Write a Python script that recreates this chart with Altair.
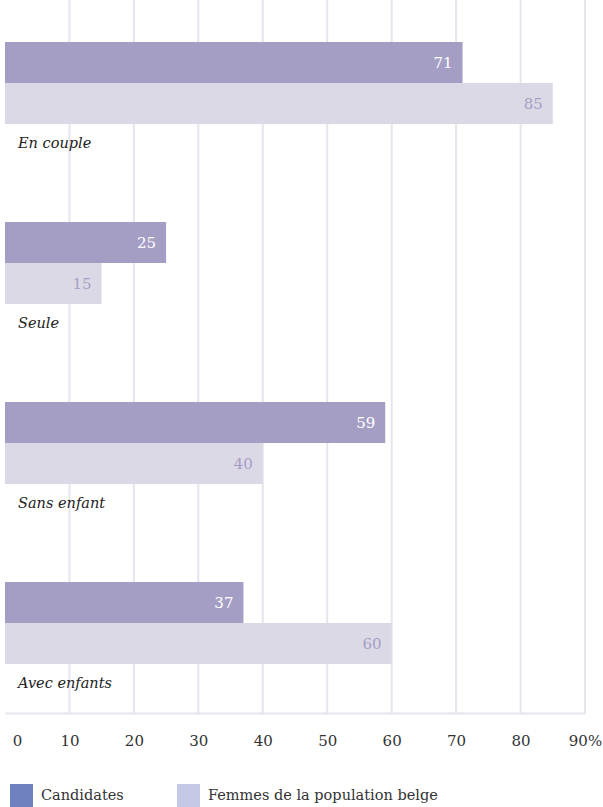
import altair as alt
import pandas as pd

categories = ["En couple", "Seule", "Sans enfant", "Avec enfants"]
candidates = [71, 25, 59, 37]
femmes = [85, 15, 40, 60]
series = ["Candidates", "Femmes de la population belge"]

rows = []
for c, a, b in zip(categories, candidates, femmes):
    rows.append({"cat": c, "serie": series[0], "val": a})
    rows.append({"cat": c, "serie": series[1], "val": b})
df = pd.DataFrame(rows)
cat_df = pd.DataFrame({"cat": categories})

SERIF = "DejaVu Serif"
bar_colors = ["#a59ec4", "#dcd9e7"]
legend_colors = ["#6f80bf", "#c5c9e6"]
label_colors = ["#ffffff", "#a59ec4"]

x_scale = alt.Scale(domain=[0, 90], nice=False)
y_scale = alt.Scale(domain=categories, range=[0, 720], paddingInner=0, paddingOuter=0)
yoff_scale = alt.Scale(domain=series, range=[42, 124], paddingInner=0, paddingOuter=0)

base = alt.Chart(df)

bars = base.mark_bar(size=41).encode(
    x=alt.X("val:Q", scale=x_scale,
            axis=alt.Axis(values=list(range(0, 100, 10)), title=None,
                          grid=False, ticks=False, domain=True,
                          domainColor="#e6e4ec", domainWidth=2,
                          labelFont=SERIF, labelFontSize=15, labelColor="#333333",
                          labelPadding=20, labelFlush=False, labelOverlap=False,
                          labelOffset=alt.condition("datum.value == 0", alt.value(12), alt.value(0)),
                          labelExpr="datum.value == 90 ? datum.label + '%' : datum.label")),
    y=alt.Y("cat:N", scale=y_scale, axis=None, sort=categories),
    yOffset=alt.YOffset("serie:N", scale=yoff_scale, sort=series),
    fill=alt.Fill("serie:N", scale=alt.Scale(domain=series, range=bar_colors), legend=None),
)

grid = alt.Chart(pd.DataFrame({"g": list(range(10, 100, 10))})).mark_rule(
    color="#e6e4ec", strokeWidth=2
).encode(x=alt.X("g:Q", scale=x_scale), y=alt.value(0), y2=alt.value(713))

legend_pts = base.mark_point(opacity=0, filled=True, shape="square", size=10).encode(
    x=alt.X("val:Q", scale=x_scale),
    color=alt.Color("serie:N", scale=alt.Scale(domain=series, range=legend_colors),
                    legend=alt.Legend(title=None, orient="none", legendX=5, legendY=784,
                                      direction="horizontal", symbolType="square",
                                      symbolSize=529, symbolOpacity=1, symbolStrokeWidth=0,
                                      labelFont=SERIF, labelFontSize=14.5, labelColor="#333333",
                                      labelLimit=400,
                                      labelOffset=8, columnPadding=53)),
)

values = base.mark_text(align="right", baseline="middle", dx=-10, font=SERIF,
                        fontSize=15).encode(
    x=alt.X("val:Q", scale=x_scale),
    y=alt.Y("cat:N", scale=y_scale, sort=categories),
    yOffset=alt.YOffset("serie:N", scale=yoff_scale, sort=series),
    text=alt.Text("val:Q"),
    fill=alt.Fill("serie:N", scale=alt.Scale(domain=series, range=label_colors), legend=None),
)

cat_labels = alt.Chart(cat_df).mark_text(align="left", baseline="middle", dx=13, dy=54,
                                         font=SERIF, fontSize=14.5, fontStyle="italic",
                                         color="#222222").encode(
    x=alt.datum(0, scale=x_scale),
    y=alt.Y("cat:N", scale=y_scale, sort=categories),
    text="cat:N",
)

chart = alt.layer(grid, bars, values, cat_labels, legend_pts).resolve_scale(
    fill="independent"
).properties(
    width=580, height=713,
    autosize=alt.AutoSizeParams(type="none"),
    padding={"left": 5, "top": 0, "right": 18, "bottom": 94},
).configure_view(stroke=None)

chart.save("out.html", embed_options={"renderer": "svg", "actions": False})
